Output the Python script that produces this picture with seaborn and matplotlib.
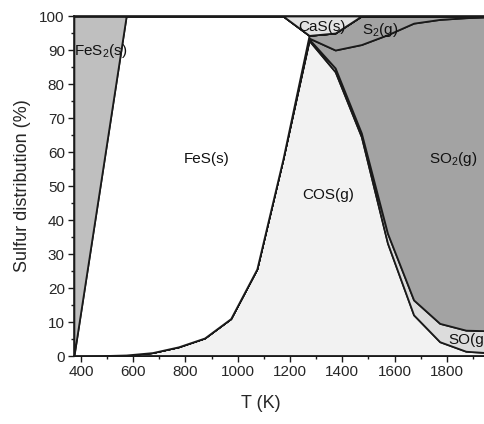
import matplotlib
matplotlib.use("Agg")
import matplotlib.pyplot as plt
from matplotlib.ticker import MultipleLocator
import seaborn as sns
import numpy as np

# Data (percent of sulfur in each species)
T = [373, 473, 573, 673, 773, 873, 973, 1073, 1173, 1273, 1373, 1473, 1573, 1673, 1773, 1873, 1973]
COS = [0, 0.1, 0.3, 1.0, 2.7, 5.3, 11.0, 25.6, 58.0, 92.8, 83.6, 64.5, 33.2, 12.1, 4.2, 1.4, 0.9]
SO = [0, 0, 0, 0, 0, 0, 0, 0, 0, 0.4, 1.1, 1.1, 2.9, 4.4, 5.4, 6.2, 6.5]
SO2 = [0, 0, 0, 0, 0, 0, 0, 0, 0, 0.3, 5.3, 26.0, 58.4, 81.4, 89.4, 91.9, 92.4]
S2 = [0, 0, 0, 0, 0, 0, 0, 0, 0, 0.8, 5.0, 8.4, 5.5, 2.1, 1.0, 0.5, 0.2]
FeS = [0, 49.8, 99.7, 99.0, 97.3, 94.7, 89.0, 74.4, 42.0, 0, 0, 0, 0, 0, 0, 0, 0]
FeS2 = [100, 50.1, 0, 0, 0, 0, 0, 0, 0, 0, 0, 0, 0, 0, 0, 0, 0]
CaS = [0, 0, 0, 0, 0, 0, 0, 0, 0, 5.7, 5.0, 0, 0, 0, 0, 0, 0]

labels = ["COS(g)", "SO(g)", "SO$_2$(g)", "S$_2$(g)", "FeS(s)", "FeS$_2$(s)", "CaS(s)"]
colors = ["#f2f2f2", "#dcdcdc", "#a3a3a3", "#a3a3a3", "#ffffff", "#bfbfbf", "#e3e3e3"]

sns.set_style("ticks")
plt.rcParams['font.family'] = ['Liberation Sans', 'DejaVu Sans']
plt.rcParams['mathtext.fontset'] = 'custom'
plt.rcParams['mathtext.rm'] = 'Liberation Sans'
plt.rcParams['mathtext.it'] = 'Liberation Sans'

fig = plt.figure(figsize=(4.84, 4.24), dpi=100)
ax = fig.add_axes([73.9 / 484, 68 / 424, (492.0 - 73.9) / 484, 340 / 424])

ax.stackplot(T, COS, SO, SO2, S2, FeS, FeS2, CaS, colors=colors,
             edgecolor="#1a1a1a", linewidth=1.3)

ax.set_xlim(373, 1973)
ax.set_ylim(0, 100)
ax.xaxis.set_major_locator(MultipleLocator(200))
ax.xaxis.set_minor_locator(MultipleLocator(100))
ax.yaxis.set_major_locator(MultipleLocator(10))
ax.yaxis.set_minor_locator(MultipleLocator(5))
ax.tick_params(which="major", direction="out", length=4.5, width=1.0,
               labelsize=11, pad=2, color="#1a1a1a")
ax.tick_params(which="minor", direction="out", length=2.3, width=1.0, color="#1a1a1a")
for s in ax.spines.values():
    s.set_linewidth(1.2)
    s.set_color("#1a1a1a")
    s.set_visible(True)
ax.set_axisbelow(False)

ax.set_xlabel("T (K)", fontsize=13)
ax.xaxis.set_label_coords((261 - 73.9) / (492.0 - 73.9), -0.115)
ax.set_ylabel("Sulfur distribution (%)", fontsize=13, labelpad=6)

tk = dict(fontsize=11, color="#111111")
ax.text(882, 58, "FeS(s)", ha="center", va="center", **tk)
ax.text(1345, 47.4, "COS(g)", ha="center", va="center", **tk)
ax.text(1823, 58, "SO$_2$(g)", ha="center", va="center", **tk)
ax.text(1544, 96, "S$_2$(g)", ha="center", va="center", **tk)
ax.text(1322, 96.8, "CaS(s)", ha="center", va="center", **tk)
ax.text(476, 89.7, "FeS$_2$(s)", ha="center", va="center", **tk)
ax.text(1805, 4.8, "SO(g)", ha="left", va="center", **tk)

fig.savefig("out.png", dpi=100)
